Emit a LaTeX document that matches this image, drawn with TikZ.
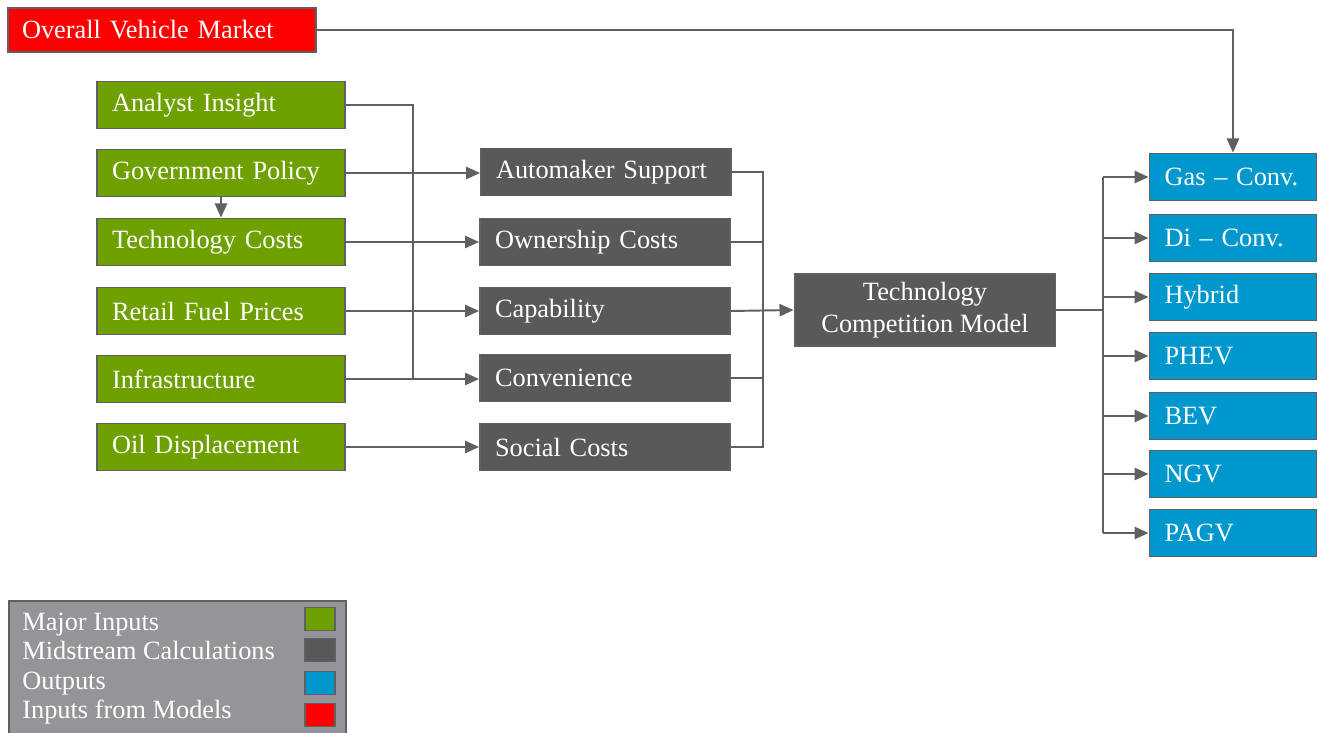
\documentclass[tikz,border=0pt]{standalone}
\usepackage{fontspec}
\setmainfont{Liberation Serif}
\usepackage{tikz}
\usetikzlibrary{arrows.meta, positioning}

\definecolor{inputgreen}{HTML}{6EA100}
\definecolor{midgray}{HTML}{58595B}
\definecolor{outblue}{HTML}{0098CC}
\definecolor{modelred}{HTML}{FF0000}
\definecolor{legendgray}{HTML}{939598}
\definecolor{edgegray}{HTML}{5F6062}

\tikzset{
  box/.style={draw=edgegray, line width=1.1pt, text=white, inner sep=0pt,
    font=\fontsize{15}{18}\selectfont, minimum height=0.94cm},
  inbox/.style={box, fill=inputgreen, minimum width=4.96cm, text width=4.36cm, align=left},
  midbox/.style={box, fill=midgray, minimum width=5.0cm, text width=4.4cm, align=left},
  outbox/.style={box, fill=outblue, minimum width=3.34cm, text width=2.74cm, align=left},
  swatch/.style={draw=edgegray, line width=1.1pt, minimum width=0.6cm, minimum height=0.46cm, inner sep=0pt},
  legtext/.style={text=white, anchor=base west, inner sep=0pt, font=\fontsize{15}{18}\selectfont},
  wire/.style={draw=edgegray, line width=1.1pt},
  flow/.style={wire, -{Triangle[length=8pt, width=7pt]}}
}

\begin{document}
\begin{tikzpicture}[x=0.02cm, y=-0.02cm]
    \useasboundingbox (0,0) rectangle (1319,733);

    % Input from other models
    \node[box, fill=modelred, minimum width=6.16cm, minimum height=0.88cm, text width=5.6cm, align=left] (market) at (162,30) {Overall Vehicle Market};

    % Major inputs
    \node[inbox] (analyst) at (221,105) {Analyst Insight};
    \node[inbox] (policy)  at (221,173) {Government Policy};
    \node[inbox] (techcost) at (221,242) {Technology Costs};
    \node[inbox] (fuel)    at (221,311) {Retail Fuel Prices};
    \node[inbox] (infra)   at (221,379) {Infrastructure};
    \node[inbox] (oil)     at (221,447) {Oil Displacement};

    % Midstream calculations
    \node[midbox] (automaker) at (606,172) {Automaker Support};
    \node[midbox] (ownership) at (605,242) {Ownership Costs};
    \node[midbox] (capability) at (605,311) {Capability};
    \node[midbox] (convenience) at (605,378) {Convenience};
    \node[midbox] (social) at (605,447) {Social Costs};

    \node[box, fill=midgray, minimum width=5.22cm, minimum height=1.44cm, align=center] (tcm) at (925,310) {Technology\\Competition Model};

    % Outputs
    \node[outbox] (gas)    at (1233,177) {Gas -- Conv.};
    \node[outbox] (diesel) at (1233,238) {Di -- Conv.};
    \node[outbox] (hybrid) at (1233,297) {Hybrid};
    \node[outbox] (phev)   at (1233,356) {PHEV};
    \node[outbox] (bev)    at (1233,416) {BEV};
    \node[outbox] (ngv)    at (1233,474) {NGV};
    \node[outbox] (pagv)   at (1233,533) {PAGV};

    % Bus points
    \coordinate (inbustop) at (413,105);
    \coordinate (inbusbot) at (413,379);
    \coordinate (midbustop) at (763,172);
    \coordinate (midbusbot) at (763,447);
    \coordinate (outbus) at (1103,310);

    % Inputs into midstream
    \path[wire] (analyst.east) -- (inbustop) -- (inbusbot);
    \path[flow] (policy.east) -- (policy.east -| automaker.west);
    \path[flow] (techcost.east) -- (techcost.east -| ownership.west);
    \path[flow] (fuel.east) -- (capability.west);
    \path[flow] (infra.east) -- (infra.east -| convenience.west);
    \path[flow] (oil.east) -- (social.west);
    \path[flow] (policy.south) -- (techcost.north);

    % Midstream into the model
    \path[wire] (automaker.east) -| (midbusbot) -- (social.east);
    \path[wire] (ownership.east) -- (ownership.east -| midbustop);
    \path[wire] (convenience.east) -- (convenience.east -| midbustop);
    \path[flow] (capability.east) -- (tcm.west);

    % Model into outputs
    \path[wire] (tcm.east) -- (outbus);
    \path[wire] (outbus |- gas.west) -- (outbus |- pagv.west);
    \foreach \o in {gas,diesel,hybrid,phev,bev,ngv,pagv}
      \path[flow] (outbus |- \o.west) -- (\o.west);

    % Overall market into outputs
    \path[flow] (market.east) -| (gas.north);

    % Legend
    \node[draw=edgegray, line width=1.1pt, fill=legendgray, minimum width=6.74cm, minimum height=3.0cm, anchor=north west, inner sep=0pt] (legend) at (8,600) {};
    \node[legtext] (lmajor) at (22,630) {Major Inputs};
    \node[legtext] (lmid)   at (22,659) {Midstream Calculations};
    \node[legtext] (lout)   at (22,689) {Outputs};
    \node[legtext] (lmodel) at (22,718) {Inputs from Models};
    \node[swatch, fill=inputgreen] (smajor) at (320,619) {};
    \node[swatch, fill=midgray]    (smid)   at (320,650) {};
    \node[swatch, fill=outblue]    (sout)   at (320,683) {};
    \node[swatch, fill=modelred]   (smodel) at (320,715) {};
\end{tikzpicture}
\end{document}
